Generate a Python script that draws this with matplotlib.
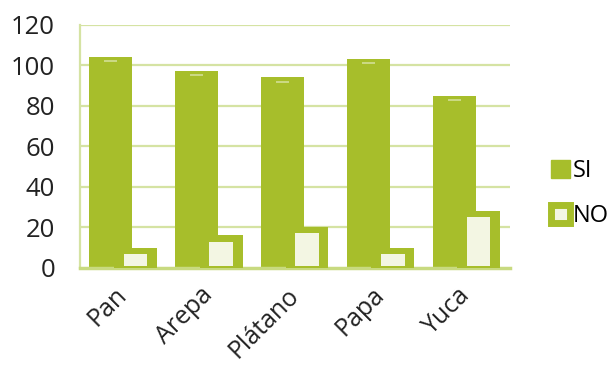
import matplotlib.pyplot as plt
import numpy as np
from matplotlib.patches import Patch

plt.rcParams['font.family'] = ['Open Sans', 'DejaVu Sans']

categorias = ['Pan', 'Arepa', 'Plátano', 'Papa', 'Yuca']
si = [104, 97, 94, 103, 85]
no = [10, 16, 20, 10, 28]

verde = '#a7be2b'
verde_claro = '#d5e3a3'

fig = plt.figure(figsize=(6.12, 3.65), dpi=100)
ax = fig.add_axes([0.131, 0.266, 0.702, 0.666])

x = np.arange(len(categorias))
ax.set_xlim(-0.5, len(categorias) - 0.5)
ax.set_ylim(0, 120)

for y in range(20, 121, 20):
    ax.axhline(y, color=verde_claro, lw=1.6, zorder=0)

# SI
ax.bar(x - 0.145, si, width=0.5, color=verde, zorder=2)
# pequeño brillo arriba de cada barra
ax.hlines(np.array(si) - 2, x - 0.22, x - 0.07, color='white', lw=1.2, alpha=0.5, zorder=3)

# NO: caja verde con interior claro
ax.bar(x + 0.14, no, width=0.5, color=verde, zorder=3)
ax.bar(x + 0.14, np.array(no) - 4, bottom=1, width=0.27, color='#f3f6e3', zorder=4)

ax.set_yticks(range(0, 121, 20))
ax.tick_params(axis='y', length=0, labelsize=18.5, pad=18, labelcolor='#222222')
ax.set_xticks(x)
ax.set_xticklabels(categorias, rotation=45, ha='right', va='center', rotation_mode='anchor',
                   fontsize=18, color='#222222')
ax.tick_params(axis='x', length=0, pad=17)

for s in ['top', 'right']:
    ax.spines[s].set_visible(False)
ax.spines['left'].set_color(verde_claro)
ax.spines['left'].set_linewidth(1.6)
ax.spines['bottom'].set_color('#c8da80')
ax.spines['bottom'].set_linewidth(2.5)

handles = [Patch(facecolor=verde, edgecolor=verde),
           Patch(facecolor='#f3f6e3', edgecolor=verde, linewidth=5)]
fig.legend(handles, ['SI', 'NO'], loc='center left', bbox_to_anchor=(0.885, 0.47),
           frameon=False, fontsize=17, handlelength=0.8, handleheight=0.8,
           handletextpad=0.1, labelspacing=0.9, borderaxespad=0)

fig.savefig('out.png', dpi=100)
